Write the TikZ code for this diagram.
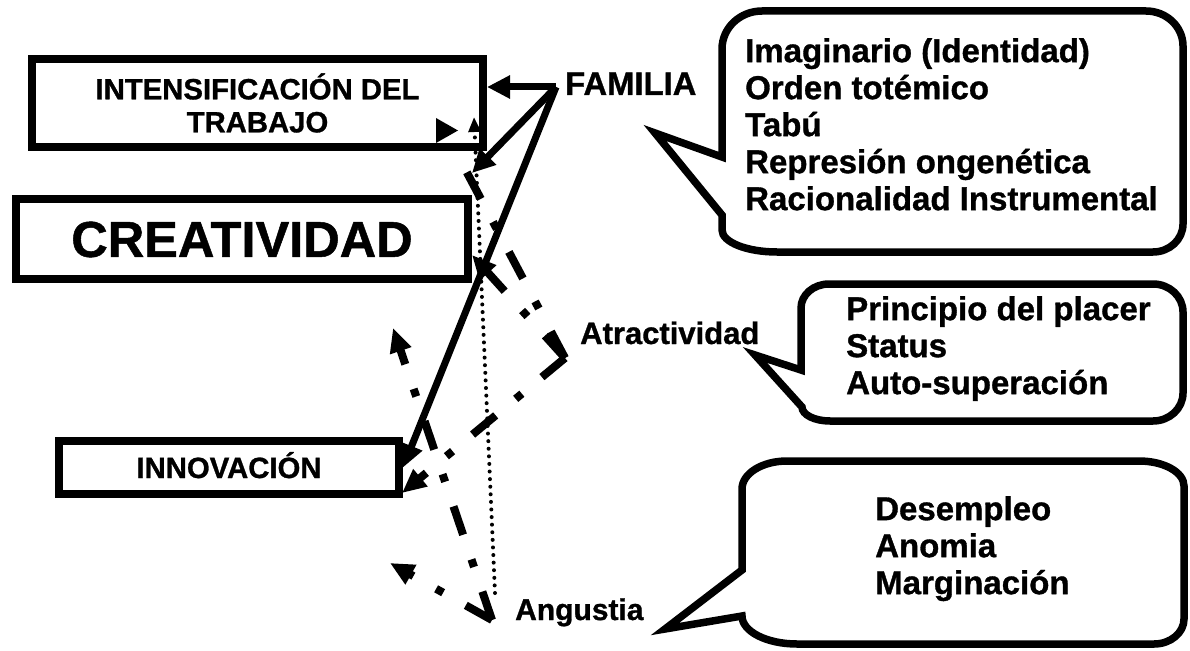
\documentclass[tikz,border=0pt]{standalone}
\usepackage{fontspec}
\setmainfont{Liberation Sans}[BoldFeatures={FakeBold=1}]
\usetikzlibrary{arrows.meta}
\newcommand\myfs[2]{\fontsize{#1pt}{#2pt}\selectfont\bfseries}
\begin{document}
\begin{tikzpicture}[x=1pt,y=-1pt,
  box/.style={draw, line width=8pt, fill=white, inner sep=0pt},
  bubble/.style={draw, line width=7.5pt, miter limit=10},
  solidarr/.style={line width=7pt, -{Triangle[length=23pt,width=22pt]}},
  ddline/.style={line width=8pt, dash pattern=on 30pt off 26pt on 8pt off 26pt},
  ddarr/.style={ddline, -{Triangle[length=24pt,width=21pt]}},
  dotarr/.style={line width=4pt, line cap=round, dash pattern=on 0pt off 7.6pt, -{Triangle[length=15pt,width=12pt]}},
  lbl/.style={inner sep=0pt, anchor=base west},
  txt/.style={inner sep=0pt, anchor=north west, align=left, font=\myfs{33}{37}}
]
\useasboundingbox (0,0) rectangle (1190,650);

% boxes
\node[box, minimum width=451pt, minimum height=88pt, align=center, font=\myfs{29.3}{33}] (trab) at (257.5,103) {INTENSIFICACIÓN DEL\\TRABAJO};
\node[box, minimum width=452pt, minimum height=80pt, text height=35.8pt, text depth=0pt, font=\myfs{50.5}{55}] (crea) at (242,239) {CREATIVIDAD};
\node[box, minimum width=340pt, minimum height=53pt, text height=21pt, text depth=0pt, font=\myfs{29.3}{33}] (inno) at (229,467.5) {INNOVACIÓN};

% labels
\node[lbl, font=\myfs{32.8}{36}] (fam) at (565,95) {FAMILIA};
\node[lbl, font=\myfs{31}{34}] (atr) at (580,344) {Atractividad};
\node[lbl, font=\myfs{30}{34}] (ang) at (515,620) {Angustia};

% callouts
\draw[bubble] (722,49) arc[start angle=180,end angle=270,x radius=40,y radius=38]
  -- (1146,11) arc[start angle=270,end angle=360,x radius=37,y radius=35]
  -- (1183,224) arc[start angle=0,end angle=90,x radius=30,y radius=28]
  -- (777,252) arc[start angle=90,end angle=180,x radius=55,y radius=22]
  -- (722,215) -- (655,133) -- (722,157) -- cycle;
\draw[bubble] (801,308) arc[start angle=180,end angle=270,x radius=28,y radius=24]
  -- (1153,284) arc[start angle=270,end angle=360,x radius=30,y radius=28]
  -- (1183,393) arc[start angle=0,end angle=90,x radius=30,y radius=28]
  -- (830,421) arc[start angle=90,end angle=180,x radius=28,y radius=14]
  -- (755,355) -- (801,370) -- cycle;
\draw[bubble] (742,489) arc[start angle=180,end angle=270,x radius=45,y radius=28]
  -- (1139,461) arc[start angle=270,end angle=360,x radius=45,y radius=25]
  -- (1184,619) arc[start angle=0,end angle=90,x radius=30,y radius=25]
  -- (797,644) arc[start angle=90,end angle=180,x radius=55,y radius=28]
  -- (665,629) -- (742,570) -- cycle;

\node[txt] (t1) at (745,38) {Imaginario (Identidad)\\Orden totémico\\Tabú\\Represión ongenética\\Racionalidad Instrumental};
\node[txt] (t2) at (846,296) {Principio del placer\\Status\\Auto-superación};
\node[txt] (t3) at (875,496) {Desempleo\\Anomia\\Marginación};

% FAMILIA connectors
\coordinate (F) at (556,87);
\coordinate (Ftip) at (472,173);
\draw[solidarr] (F) -- (F -| trab.east);
\draw[solidarr] (F) -- (Ftip);
\draw[solidarr] (F) -- (inno.east);

% Atractividad connectors
\coordinate (A) at (565,358);
\coordinate (A1) at (455,150);
\coordinate (A2) at (472,255);
\coordinate (A3) at (402,493);
\draw[ddline] (A) -- (A1);
\draw[ddarr] (A) -- (A2);
\draw[ddarr] (A) -- (A3);
\fill (436,118) -- (458,130.5) -- (436,143) -- cycle;

% Angustia connectors
\coordinate (V) at (492,620);
\coordinate (V1) at (393,328);
\coordinate (V2) at (390,563);
\coordinate (D) at (495,593);
\coordinate (Dt) at (474,117);
\draw[ddarr] (V) -- (V1);
\draw[ddarr] (V) -- (V2);
\draw[dotarr] (D) -- (Dt);
\end{tikzpicture}
\end{document}
